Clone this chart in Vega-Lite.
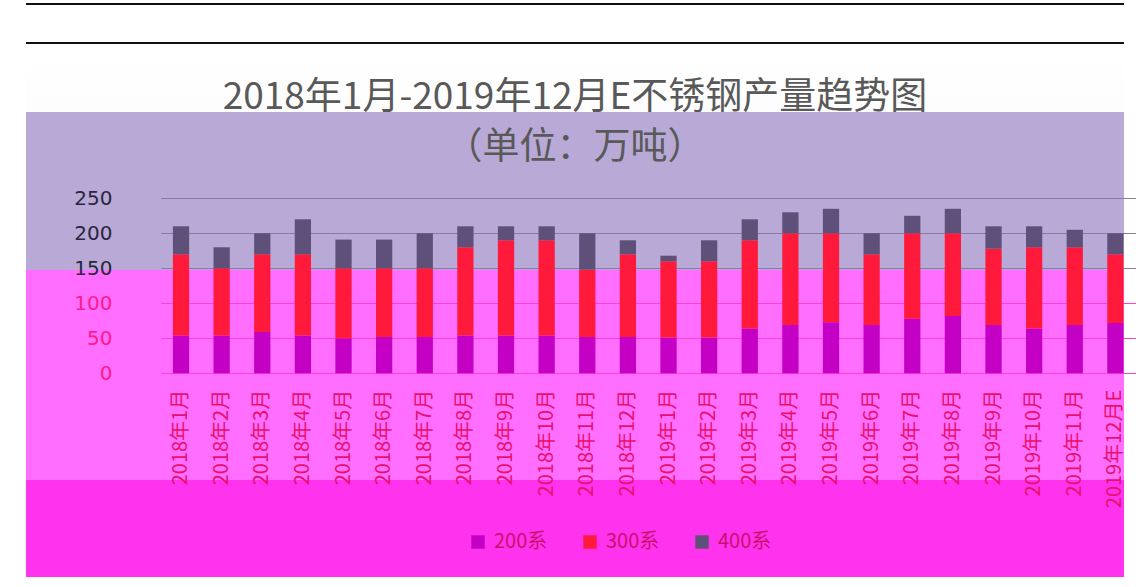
{
  "$schema": "https://vega.github.io/schema/vega-lite/v6.json",
  "width": 1098,
  "height": 587,
  "autosize": {"type": "none"},
  "padding": {"left": 26, "top": 0, "right": 12, "bottom": 0},
  "background": "#ffffff",
  "view": {
    "stroke": null,
    "fill": {
      "gradient": "linear", "x1": 0, "y1": 0, "x2": 0, "y2": 1,
      "stops": [
        {"offset": 0, "color": "#ffffff"},
        {"offset": 0.0051, "color": "#ffffff"},
        {"offset": 0.0051, "color": "#111111"},
        {"offset": 0.0085, "color": "#111111"},
        {"offset": 0.0085, "color": "#ffffff"},
        {"offset": 0.0716, "color": "#ffffff"},
        {"offset": 0.0716, "color": "#111111"},
        {"offset": 0.075, "color": "#111111"},
        {"offset": 0.075, "color": "#ffffff"},
        {"offset": 0.1908, "color": "#fdfdfd"},
        {"offset": 0.1908, "color": "#b8a9d6"},
        {"offset": 0.46, "color": "#b8a9d6"},
        {"offset": 0.46, "color": "#ff6eff"},
        {"offset": 0.8177, "color": "#ff6eff"},
        {"offset": 0.8177, "color": "#ff33ee"},
        {"offset": 0.983, "color": "#ff33ee"},
        {"offset": 0.983, "color": "#ffffff"},
        {"offset": 1, "color": "#ffffff"}
      ]
    }
  },
  "title": {
    "text": ["2018年1月-2019年12月E不锈钢产量趋势图", "（单位：万吨）"],
    "font": "Noto Sans CJK SC",
    "fontSize": 37,
    "fontWeight": "normal",
    "lineHeight": 50,
    "color": "#595959",
    "anchor": "middle",
    "offset": -167
  },
  "data": {
    "values": [
      {"month": "2018年1月", "series": "200系", "value": 54},
      {"month": "2018年1月", "series": "300系", "value": 116},
      {"month": "2018年1月", "series": "400系", "value": 40},
      {"month": "2018年2月", "series": "200系", "value": 54},
      {"month": "2018年2月", "series": "300系", "value": 96},
      {"month": "2018年2月", "series": "400系", "value": 30},
      {"month": "2018年3月", "series": "200系", "value": 59},
      {"month": "2018年3月", "series": "300系", "value": 111},
      {"month": "2018年3月", "series": "400系", "value": 30},
      {"month": "2018年4月", "series": "200系", "value": 54},
      {"month": "2018年4月", "series": "300系", "value": 116},
      {"month": "2018年4月", "series": "400系", "value": 50},
      {"month": "2018年5月", "series": "200系", "value": 50},
      {"month": "2018年5月", "series": "300系", "value": 100},
      {"month": "2018年5月", "series": "400系", "value": 41},
      {"month": "2018年6月", "series": "200系", "value": 52},
      {"month": "2018年6月", "series": "300系", "value": 98},
      {"month": "2018年6月", "series": "400系", "value": 41},
      {"month": "2018年7月", "series": "200系", "value": 52},
      {"month": "2018年7月", "series": "300系", "value": 98},
      {"month": "2018年7月", "series": "400系", "value": 50},
      {"month": "2018年8月", "series": "200系", "value": 54},
      {"month": "2018年8月", "series": "300系", "value": 126},
      {"month": "2018年8月", "series": "400系", "value": 30},
      {"month": "2018年9月", "series": "200系", "value": 54},
      {"month": "2018年9月", "series": "300系", "value": 136},
      {"month": "2018年9月", "series": "400系", "value": 20},
      {"month": "2018年10月", "series": "200系", "value": 54},
      {"month": "2018年10月", "series": "300系", "value": 136},
      {"month": "2018年10月", "series": "400系", "value": 20},
      {"month": "2018年11月", "series": "200系", "value": 52},
      {"month": "2018年11月", "series": "300系", "value": 96},
      {"month": "2018年11月", "series": "400系", "value": 52},
      {"month": "2018年12月", "series": "200系", "value": 52},
      {"month": "2018年12月", "series": "300系", "value": 118},
      {"month": "2018年12月", "series": "400系", "value": 20},
      {"month": "2019年1月", "series": "200系", "value": 51},
      {"month": "2019年1月", "series": "300系", "value": 109},
      {"month": "2019年1月", "series": "400系", "value": 8},
      {"month": "2019年2月", "series": "200系", "value": 51},
      {"month": "2019年2月", "series": "300系", "value": 109},
      {"month": "2019年2月", "series": "400系", "value": 30},
      {"month": "2019年3月", "series": "200系", "value": 64},
      {"month": "2019年3月", "series": "300系", "value": 126},
      {"month": "2019年3月", "series": "400系", "value": 30},
      {"month": "2019年4月", "series": "200系", "value": 69},
      {"month": "2019年4月", "series": "300系", "value": 131},
      {"month": "2019年4月", "series": "400系", "value": 30},
      {"month": "2019年5月", "series": "200系", "value": 73},
      {"month": "2019年5月", "series": "300系", "value": 127},
      {"month": "2019年5月", "series": "400系", "value": 35},
      {"month": "2019年6月", "series": "200系", "value": 69},
      {"month": "2019年6月", "series": "300系", "value": 101},
      {"month": "2019年6月", "series": "400系", "value": 30},
      {"month": "2019年7月", "series": "200系", "value": 78},
      {"month": "2019年7月", "series": "300系", "value": 122},
      {"month": "2019年7月", "series": "400系", "value": 25},
      {"month": "2019年8月", "series": "200系", "value": 82},
      {"month": "2019年8月", "series": "300系", "value": 118},
      {"month": "2019年8月", "series": "400系", "value": 35},
      {"month": "2019年9月", "series": "200系", "value": 69},
      {"month": "2019年9月", "series": "300系", "value": 109},
      {"month": "2019年9月", "series": "400系", "value": 32},
      {"month": "2019年10月", "series": "200系", "value": 64},
      {"month": "2019年10月", "series": "300系", "value": 116},
      {"month": "2019年10月", "series": "400系", "value": 30},
      {"month": "2019年11月", "series": "200系", "value": 69},
      {"month": "2019年11月", "series": "300系", "value": 111},
      {"month": "2019年11月", "series": "400系", "value": 25},
      {"month": "2019年12月E", "series": "200系", "value": 72},
      {"month": "2019年12月E", "series": "300系", "value": 98},
      {"month": "2019年12月E", "series": "400系", "value": 30}
    ]
  },
  "mark": {"type": "bar"},
  "encoding": {
    "x": {
      "field": "month",
      "type": "nominal",
      "sort": null,
      "scale": {"paddingInner": 0.6, "paddingOuter": 0.3, "range": [134.7, 1109.7]},
      "axis": {
        "title": null,
        "offset": -213.7,
        "labelAngle": -90,
        "ticks": false,
        "domain": false,
        "labelPadding": 16,
        "labelFontSize": 20,
        "labelFont": "Noto Sans CJK SC",
        "labelColor": "#e8106e",
        "labelLimit": 0
      }
    },
    "y": {
      "field": "value",
      "type": "quantitative",
      "stack": "zero",
      "scale": {"domain": [-305.3, 533.3], "nice": false, "zero": false},
      "axis": {
        "title": null,
        "offset": -86,
        "values": [0, 50, 100, 150, 200, 250],
        "ticks": false,
        "domain": false,
        "labelPadding": 0,
        "labelFontSize": 20,
        "labelFont": "DejaVu Sans",
        "labelColor": {"condition": {"test": "datum.value >= 150", "value": "#2b2540"}, "value": "#ff1a8c"},
        "gridColor": {"condition": {"test": "datum.value >= 150", "value": "#8a7aa8"}, "value": "#ff40d0"}
      }
    },
    "color": {
      "field": "series",
      "type": "nominal",
      "scale": {"domain": ["200系", "300系", "400系"], "range": ["#c400c4", "#ff1a3c", "#5e5078"]},
      "legend": {
        "title": null,
        "orient": "none",
        "legendX": 442,
        "legendY": 532,
        "padding": 0,
        "direction": "horizontal",
        "symbolType": "square",
        "symbolSize": 180,
        "labelOffset": 6,
        "labelFontSize": 20,
        "labelFont": "Noto Sans CJK SC",
        "labelColor": "#c8106e",
        "columnPadding": 32
      }
    },
    "order": {"field": "series", "sort": "ascending"}
  }
}
